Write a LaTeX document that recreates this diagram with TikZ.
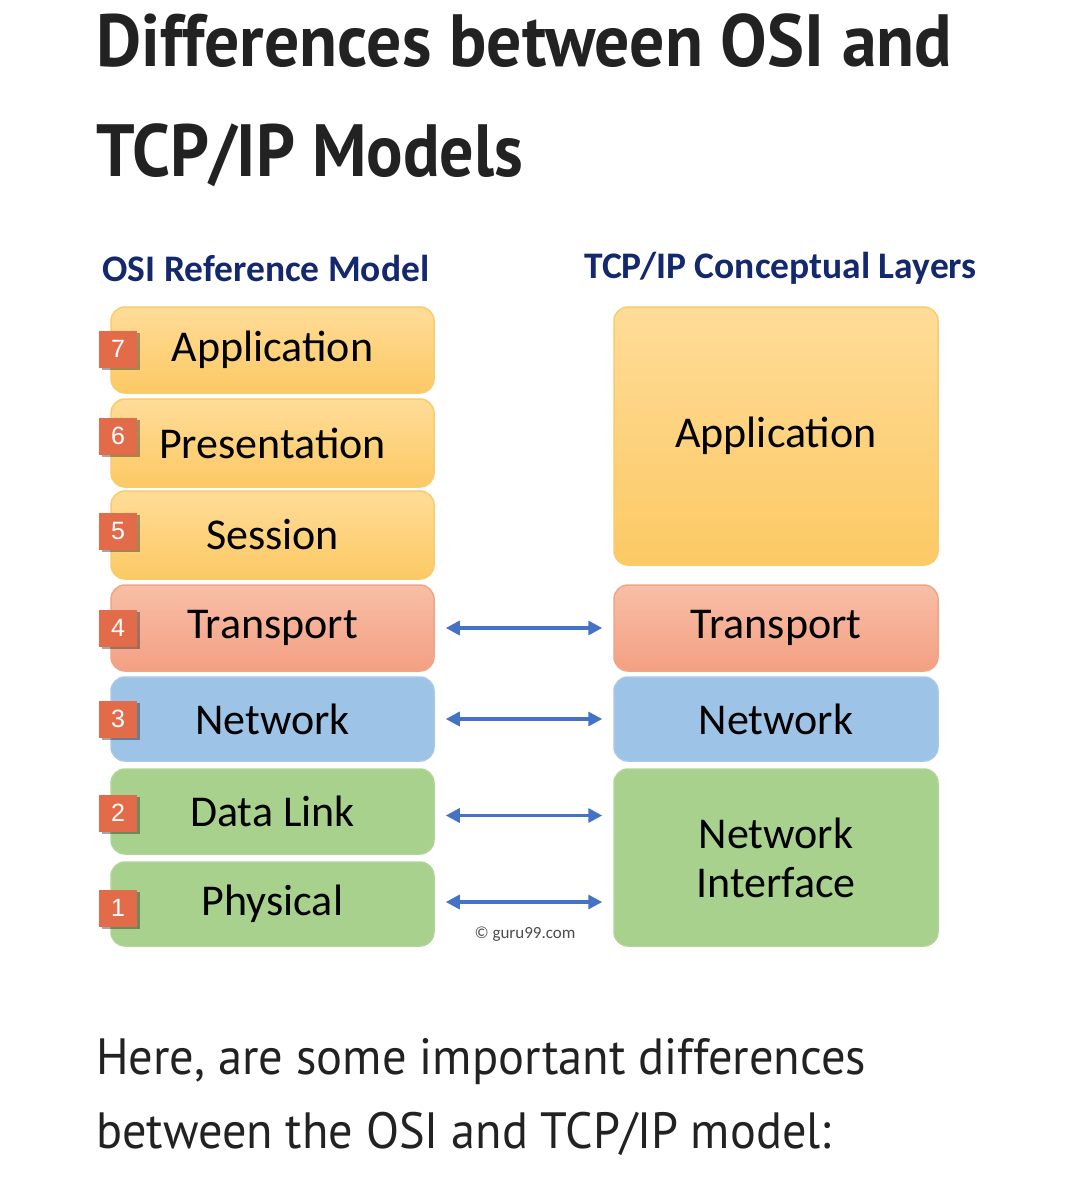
\documentclass[tikz,border=0pt]{standalone}
\usepackage{fontspec}
\usepackage{graphicx}
\setmainfont{PT Sans}
\newfontfamily\calfont{Carlito}
\newfontfamily\badgefont{Liberation Sans}
\usetikzlibrary{arrows.meta,shadows}
\definecolor{navy}{HTML}{14286E}
\definecolor{yelT}{HTML}{FFDC98}
\definecolor{yelB}{HTML}{FCC964}
\definecolor{yelD}{HTML}{F8CC6A}
\definecolor{orT}{HTML}{F8BEA6}
\definecolor{orB}{HTML}{F3A083}
\definecolor{orD}{HTML}{F2A486}
\definecolor{blu}{HTML}{9DC3E6}
\definecolor{bluD}{HTML}{A6C8E8}
\definecolor{grn}{HTML}{A9D18E}
\definecolor{grnD}{HTML}{AFD495}
\definecolor{badgeC}{HTML}{E26C4A}
\definecolor{arrC}{HTML}{4472C4}
\definecolor{txtC}{HTML}{222222}
\tikzset{
  layer/.style={rounded corners=14pt, line width=1.5pt, minimum width=323pt, inner sep=0pt,
    font=\calfont\fontsize{44}{50}\selectfont, text=black, align=center},
  yel/.style={layer, draw=yelD, top color=yelT, bottom color=yelB},
  org/.style={layer, draw=orD, top color=orT, bottom color=orB},
  blue/.style={layer, draw=bluD, fill=blu},
  grnbox/.style={layer, draw=grnD, fill=grn},
  badge/.style={fill=badgeC, minimum width=38pt, minimum height=37pt, inner sep=0pt,
    text=white, font=\badgefont\fontsize{25}{28}\selectfont,
    drop shadow={shadow xshift=2.5pt, shadow yshift=-2.5pt, opacity=0.35, fill=black}},
  hdr/.style={font=\calfont\bfseries\fontsize{37.5}{42}\selectfont, text=navy, inner sep=0pt},
  link/.style={arrC, line width=3.2pt, {Triangle[length=14pt,width=14pt]}-{Triangle[length=14pt,width=14pt]},
    shorten <=11pt, shorten >=11pt}
}
\begin{document}
\begin{tikzpicture}[x=1pt,y=-1pt]
\fill[white] (0,0) rectangle (1080,1181);
\useasboundingbox (0,0) rectangle (1080,1181);

% title
\node[anchor=base west, inner sep=0pt, text=txtC] (t1) at (96,66)
  {\resizebox{856pt}{\height}{\fontsize{74}{80}\selectfont\bfseries Differences between OSI and}};
\node[anchor=base west, inner sep=0pt, text=txtC] (t2) at (96,176)
  {\resizebox{427pt}{\height}{\fontsize{74}{80}\selectfont\bfseries TCP/IP Models}};

% headers
\node[hdr] (h1) at (266,268) {OSI Reference Model};
\node[hdr] (h2) at (780.5,268) {TCP/IP Conceptual Layers};

% OSI layers
\node[yel, minimum height=86pt] (L7) at (272.5,350) {Application};
\node[yel, minimum height=88pt] (L6) at (272.5,443) {Presentation};
\node[yel, minimum height=88pt] (L5) at (272.5,535) {Session};
\node[org, minimum height=86pt] (L4) at (272.5,628) {Transport};
\node[blue, minimum height=84pt] (L3) at (272.5,719) {Network};
\node[grnbox, minimum height=85pt] (L2) at (272.5,811.5) {Data Link};
\node[grnbox, minimum height=84pt] (L1) at (272.5,904) {Physical};

% badges
\node[badge] (b7) at (118,349) {7};
\node[badge] (b6) at (118,436) {6};
\node[badge] (b5) at (118,531) {5};
\node[badge] (b4) at (118,628) {4};
\node[badge] (b3) at (118,719) {3};
\node[badge] (b2) at (118,813) {2};
\node[badge] (b1) at (118,908) {1};

% TCP/IP layers
\node[yel, minimum width=324pt, minimum height=258pt] (RA) at (776,436) {Application};
\node[org, minimum width=324pt, minimum height=86pt] (RT) at (776,628) {Transport};
\node[blue, minimum width=324pt, minimum height=84pt] (RN) at (776,719) {Network};
\node[grnbox, minimum width=324pt, minimum height=177pt, font=\calfont\fontsize{44}{49}\selectfont] (NI) at (776,857.5) {Network\\Interface};

% links
\draw[link] (L4.east) -- (RT.west |- L4.east);
\draw[link] (L3.east) -- (RN.west |- L3.east);
\coordinate (c2) at ([yshift=-4pt]L2.east);
\draw[link] (c2) -- (NI.west |- c2);
\coordinate (c1) at ([yshift=2pt]L1.east);
\draw[link] (c1) -- (NI.west |- c1);

\node[font=\calfont\fontsize{17}{19}\selectfont, text=black!70, inner sep=0pt] (cr) at (525,934) {\textcopyright\ guru99.com};

% body text
\node[anchor=base west, inner sep=0pt, text=txtC] (p1) at (96,1074)
  {\resizebox{770pt}{\height}{\fontsize{51}{56}\selectfont Here, are some important differences}};
\node[anchor=base west, inner sep=0pt, text=txtC] (p2) at (96,1148)
  {\resizebox{735pt}{\height}{\fontsize{51}{56}\selectfont between the OSI and TCP/IP model:}};
\end{tikzpicture}
\end{document}
